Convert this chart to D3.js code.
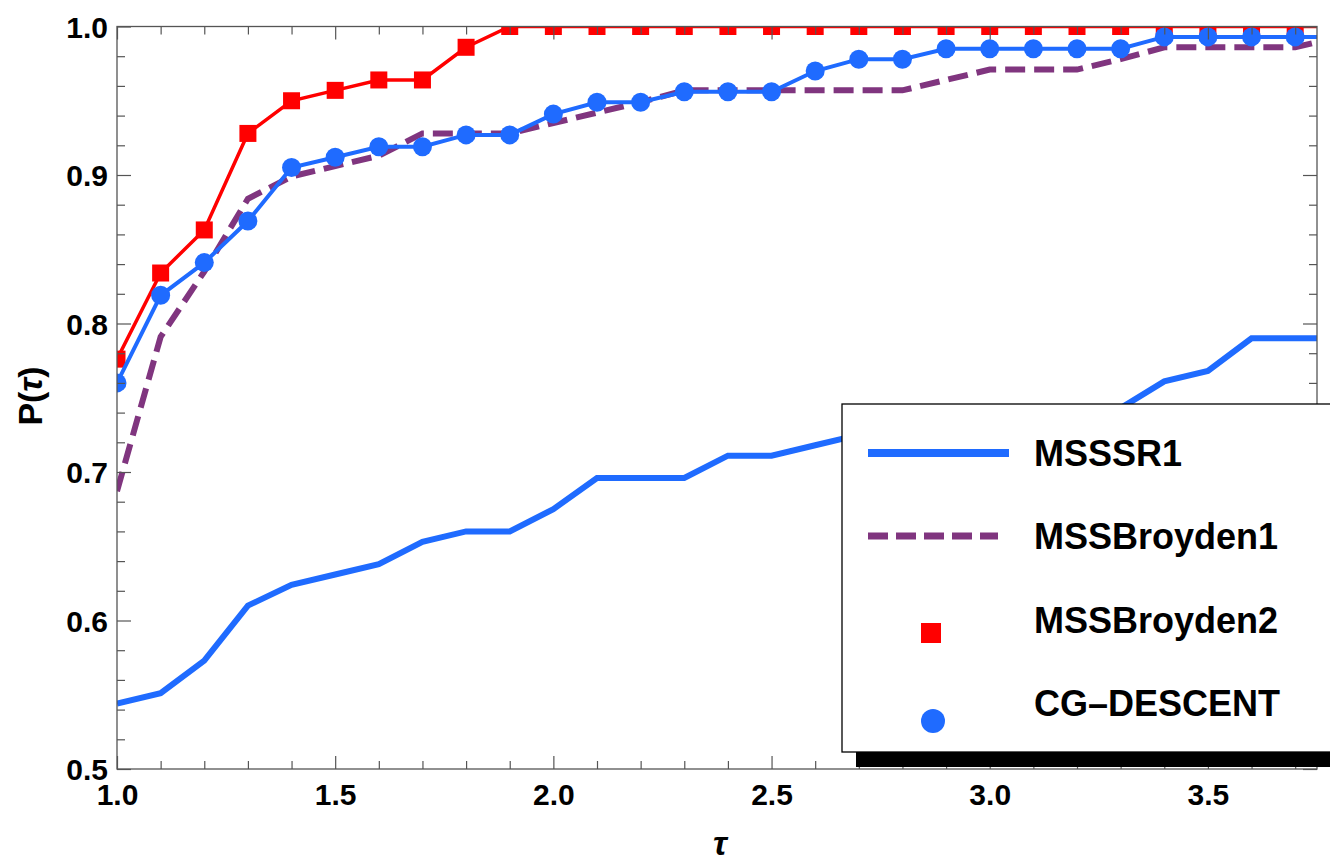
<!DOCTYPE html>
<html>
<head>
<meta charset="utf-8">
<script src="https://cdn.jsdelivr.net/npm/d3@7"></script>
<style>
  body { margin: 0; background: #fff; }
  svg text { font-family: "Liberation Sans", Arial, sans-serif; font-weight: bold; fill: #000; }
</style>
</head>
<body>
<svg id="chart" width="1330" height="863"></svg>
<script>
// data read from the performance profile
const tau = [1.0, 1.1, 1.2, 1.3, 1.4, 1.5, 1.6, 1.7, 1.8, 1.9,
             2.0, 2.1, 2.2, 2.3, 2.4, 2.5, 2.6, 2.7, 2.8, 2.9,
             3.0, 3.1, 3.2, 3.3, 3.4, 3.5, 3.6, 3.7, 3.8];

const msssr1 = [0.544, 0.551, 0.573, 0.610, 0.624, 0.631, 0.638, 0.653, 0.660, 0.660,
                0.675, 0.696, 0.696, 0.696, 0.711, 0.711, 0.718, 0.725, 0.730, 0.730,
                0.735, 0.738, 0.738, 0.743, 0.761, 0.768, 0.790, 0.790, 0.790];

const mssBroyden1 = [0.687, 0.791, 0.835, 0.884, 0.899, 0.906, 0.913, 0.928, 0.928, 0.928,
                     0.935, 0.942, 0.949, 0.957, 0.957, 0.957, 0.957, 0.957, 0.957, 0.964,
                     0.971, 0.971, 0.971, 0.978, 0.986, 0.986, 0.986, 0.986, 0.993];

const mssBroyden2 = [0.776, 0.834, 0.863, 0.928, 0.950, 0.957, 0.964, 0.964, 0.986, 1.0,
                     1.0, 1.0, 1.0, 1.0, 1.0, 1.0, 1.0, 1.0, 1.0, 1.0,
                     1.0, 1.0, 1.0, 1.0, 1.0, 1.0, 1.0, 1.0, 1.0];

const cgDescent = [0.760, 0.819, 0.841, 0.869, 0.905, 0.912, 0.919, 0.919, 0.927, 0.927,
                   0.941, 0.949, 0.949, 0.956, 0.956, 0.956, 0.970, 0.978, 0.978, 0.985,
                   0.985, 0.985, 0.985, 0.985, 0.993, 0.993, 0.993, 0.993, 0.993];

const xMajor = [1.0, 1.5, 2.0, 2.5, 3.0, 3.5];
const yMajor = [0.5, 0.6, 0.7, 0.8, 0.9, 1.0];
const seriesNames = ["MSSSR1", "MSSBroyden1", "MSSBroyden2", "CG\u2013DESCENT"];

const blue = "#1f6bff", purple = "#80357f", red = "#ff0000", axisCol = "#555";

const svg = d3.select("#chart");
const pLeft = 117, pRight = 1317, pTop = 26.5, pBottom = 769;

const x = d3.scaleLinear().domain([1, 3.75]).range([pLeft, pRight]);
const y = d3.scaleLinear().domain([0.5, 1]).range([pBottom, pTop]);

svg.append("defs").append("clipPath").attr("id", "plotclip")
  .append("rect").attr("x", pLeft).attr("y", pTop)
  .attr("width", pRight - pLeft).attr("height", pBottom - pTop);

const plot = svg.append("g").attr("clip-path", "url(#plotclip)");

const line = d3.line().x((d, i) => x(tau[i])).y(d => y(d));

// MSSSR1 thick solid
plot.append("path").datum(msssr1).attr("d", line)
  .attr("fill", "none").attr("stroke", blue).attr("stroke-width", 6);

// MSSBroyden1 dashed
plot.append("path").datum(mssBroyden1).attr("d", line)
  .attr("fill", "none").attr("stroke", purple).attr("stroke-width", 6)
  .attr("stroke-dasharray", "20,9");

// MSSBroyden2 squares
plot.append("path").datum(mssBroyden2).attr("d", line)
  .attr("fill", "none").attr("stroke", red).attr("stroke-width", 3.5);
plot.selectAll(".sq").data(mssBroyden2).enter().append("rect")
  .attr("x", (d, i) => x(tau[i]) - 8.5).attr("y", d => y(d) - 8.5)
  .attr("width", 17).attr("height", 17).attr("fill", red);

// CG-DESCENT circles
plot.append("path").datum(cgDescent).attr("d", line)
  .attr("fill", "none").attr("stroke", blue).attr("stroke-width", 4);
plot.selectAll(".dot").data(cgDescent).enter().append("circle")
  .attr("cx", (d, i) => x(tau[i])).attr("cy", d => y(d))
  .attr("r", 9.5).attr("fill", blue);

// axes, ticks inward on all four sides
const xMinor = d3.range(1.0, 3.75, 0.1).filter(v => Math.abs(v * 2 - Math.round(v * 2)) > 1e-6);
const yMinor = d3.range(0.5, 1.0001, 0.02).filter(v => Math.abs(v * 10 - Math.round(v * 10)) > 1e-6);

function styleAxis(g) {
  g.select(".domain").remove();
  g.selectAll(".tick line").attr("stroke", axisCol).attr("stroke-width", 1.2);
}

svg.append("g").attr("transform", `translate(0,${pBottom})`)
  .call(d3.axisBottom(x).tickValues(xMinor).tickSize(-8).tickFormat(""))
  .call(styleAxis);
svg.append("g").attr("transform", `translate(0,${pBottom})`)
  .call(d3.axisBottom(x).tickValues(xMajor).tickSize(-13).tickFormat(d3.format(".1f")))
  .call(styleAxis)
  .call(g => g.selectAll("text").attr("y", 36).attr("dy", null)
    .attr("font-size", 30).attr("fill", "#000"));

svg.append("g").attr("transform", `translate(0,${pTop})`)
  .call(d3.axisTop(x).tickValues(xMinor).tickSize(-8).tickFormat(""))
  .call(styleAxis);
svg.append("g").attr("transform", `translate(0,${pTop})`)
  .call(d3.axisTop(x).tickValues(xMajor).tickSize(-13).tickFormat(""))
  .call(styleAxis);

svg.append("g").attr("transform", `translate(${pLeft},0)`)
  .call(d3.axisLeft(y).tickValues(yMinor).tickSize(-8).tickFormat(""))
  .call(styleAxis);
svg.append("g").attr("transform", `translate(${pLeft},0)`)
  .call(d3.axisLeft(y).tickValues(yMajor).tickSize(-14).tickFormat(d3.format(".1f")))
  .call(styleAxis)
  .call(g => g.selectAll("text").attr("x", -9).attr("dy", "0.36em")
    .attr("font-size", 30).attr("fill", "#000"));

svg.append("g").attr("transform", `translate(${pRight},0)`)
  .call(d3.axisRight(y).tickValues(yMinor).tickSize(-8).tickFormat(""))
  .call(styleAxis);
svg.append("g").attr("transform", `translate(${pRight},0)`)
  .call(d3.axisRight(y).tickValues(yMajor).tickSize(-14).tickFormat(""))
  .call(styleAxis);

// frame
svg.append("rect").attr("x", pLeft).attr("y", pTop)
  .attr("width", pRight - pLeft).attr("height", pBottom - pTop)
  .attr("fill", "none").attr("stroke", axisCol).attr("stroke-width", 1.3);

// axis titles
const yTitle = svg.append("text")
  .attr("transform", `translate(42,396) rotate(-90)`)
  .attr("text-anchor", "middle").attr("font-size", 34);
yTitle.append("tspan").text("P(");
yTitle.append("tspan").attr("font-style", "italic").text("\u03c4");
yTitle.append("tspan").text(")");

svg.append("text").attr("x", 720).attr("y", 855)
  .attr("text-anchor", "middle").attr("font-size", 34)
  .attr("font-style", "italic").text("\u03c4");

// legend with drop shadow
const lg = svg.append("g");
lg.append("rect").attr("x", 856).attr("y", 418).attr("width", 500).attr("height", 349)
  .attr("fill", "#000");
lg.append("rect").attr("x", 842).attr("y", 404).attr("width", 500).attr("height", 348)
  .attr("fill", "#fff").attr("stroke", "#000").attr("stroke-width", 1.3);

const rowY = [453, 536, 620, 703];
lg.append("line").attr("x1", 868).attr("x2", 1009).attr("y1", rowY[0]).attr("y2", rowY[0])
  .attr("stroke", blue).attr("stroke-width", 8);
lg.append("line").attr("x1", 868).attr("x2", 998).attr("y1", rowY[1]).attr("y2", rowY[1])
  .attr("stroke", purple).attr("stroke-width", 7).attr("stroke-dasharray", "20,8");
lg.append("rect").attr("x", 921).attr("y", 623).attr("width", 20).attr("height", 20)
  .attr("fill", red);
lg.append("circle").attr("cx", 933).attr("cy", 721).attr("r", 12).attr("fill", blue);

lg.selectAll(".lt").data(seriesNames).enter().append("text")
  .attr("x", 1034).attr("y", (d, i) => rowY[i] + 12.5)
  .attr("font-size", 36).text(d => d);
</script>
</body>
</html>
